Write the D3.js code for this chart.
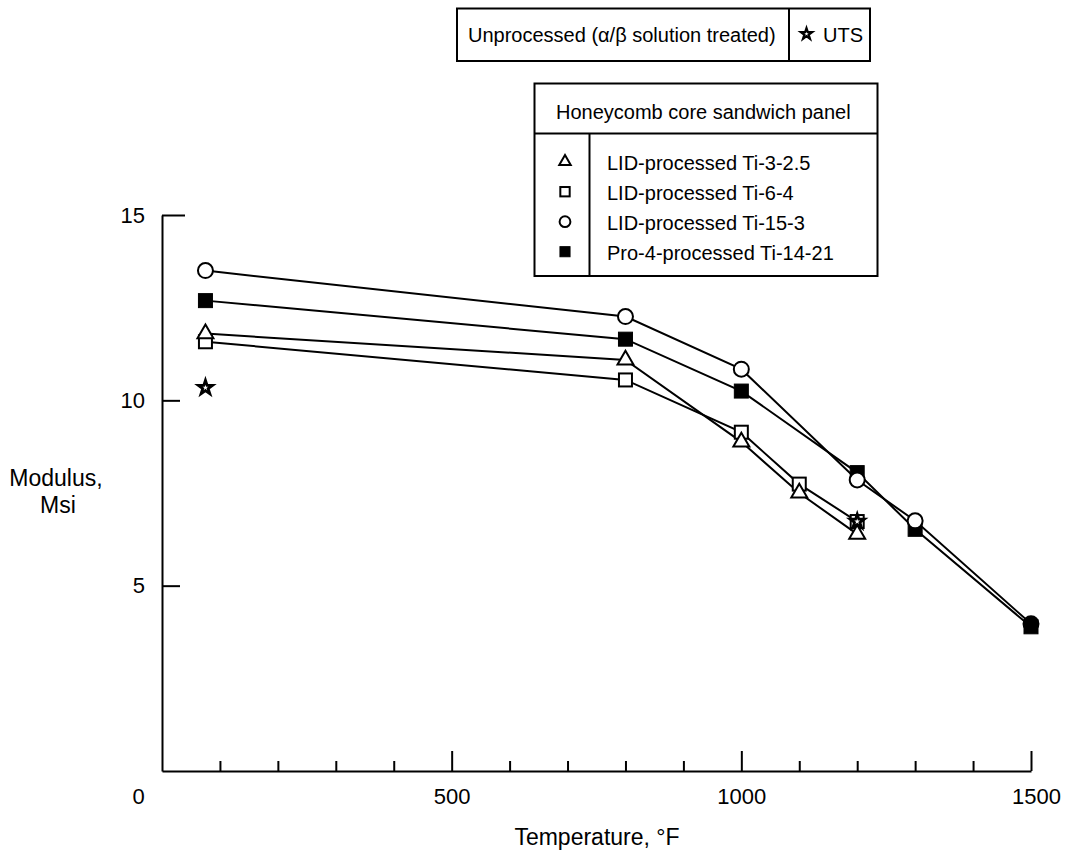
<!DOCTYPE html>
<html>
<head>
<meta charset="utf-8">
<script src="https://cdn.jsdelivr.net/npm/d3@7"></script>
<style>
  body { margin: 0; background: #fff; }
  svg { font-family: "Liberation Sans", Arial, sans-serif; }
</style>
</head>
<body>
<svg width="1070" height="855"></svg>
<script>
// temperatures (°F) and modulus values (Msi)
const tempsFull = [75, 800, 1000, 1200, 1300, 1500];
const tempsLid = [75, 800, 1000, 1100, 1200];
const ti153 = [13.5, 12.26, 10.84, 7.85, 6.75, 3.97];
const ti1421 = [12.69, 11.65, 10.25, 8.05, 6.52, 3.89];
const ti325 = [11.8, 11.09, 8.88, 7.5, 6.39];
const ti64 = [11.58, 10.55, 9.14, 7.74, 6.73];
const utsTemps = [75, 1200];
const utsValues = [10.34, 6.73];

const xTicks = [100, 200, 300, 400, 500, 600, 700, 800, 900, 1000, 1100, 1200, 1300, 1400, 1500];
const xLabels = [0, 500, 1000, 1500];
const yTicks = [5, 10, 15];

const legendItems = [
  { shape: "triangle", label: "LID-processed Ti-3-2.5" },
  { shape: "square", label: "LID-processed Ti-6-4" },
  { shape: "circle", label: "LID-processed Ti-15-3" },
  { shape: "filled", label: "Pro-4-processed Ti-14-21" }
];

const svg = d3.select("svg");

const x = d3.scaleLinear().domain([0, 1500]).range([162, 1031]);
const y = d3.scaleLinear().domain([0, 15]).range([771, 215]);

// x axis: minor ticks pointing up, longer at 500s
const xAxis = svg.append("g")
  .attr("transform", "translate(0,771)")
  .call(d3.axisBottom(x).tickValues(xTicks).tickSize(-10).tickSizeOuter(0).tickFormat(""));
xAxis.selectAll(".tick line")
  .attr("y2", d => d % 500 === 0 ? -20 : -10);

const xLab = svg.append("g")
  .attr("transform", "translate(0,771)")
  .call(d3.axisBottom(x).tickValues(xLabels).tickSize(0).tickPadding(17).tickFormat(d3.format("d")));
xLab.select(".domain").remove();
xLab.selectAll(".tick text")
  .attr("dx", d => d === 0 ? -24 : d === 1500 ? 5 : 0);

// y axis, ticks pointing right
const yAxis = svg.append("g")
  .attr("transform", "translate(162,0)")
  .call(d3.axisLeft(y).tickValues(yTicks).tickSize(-18).tickSizeOuter(0).tickPadding(17));
yAxis.selectAll(".tick line").attr("x2", d => d === 15 ? 23 : 18);

svg.selectAll(".domain, .tick line")
  .attr("stroke", "#000")
  .attr("stroke-width", 2);
svg.selectAll(".tick text")
  .attr("font-size", 22)
  .attr("font-family", "Liberation Sans, Arial, sans-serif")
  .attr("fill", "#000");

// axis titles
svg.append("text")
  .attr("x", 597).attr("y", 845)
  .attr("text-anchor", "middle")
  .attr("font-size", 23)
  .text("Temperature, °F");

svg.append("text")
  .attr("x", 56).attr("y", 486)
  .attr("text-anchor", "middle")
  .attr("font-size", 23)
  .text("Modulus,");
svg.append("text")
  .attr("x", 58).attr("y", 513)
  .attr("text-anchor", "middle")
  .attr("font-size", 23)
  .text("Msi");

// markers
function drawMarker(g, shape, cx, cy, scale, fill) {
  const s = scale || 1;
  if (shape === "circle") {
    g.append("circle").attr("cx", cx).attr("cy", cy).attr("r", 7.5 * s)
      .attr("fill", fill || "#fff").attr("stroke", "#000").attr("stroke-width", 2);
  } else if (shape === "square") {
    const h = 6.5 * s;
    g.append("rect").attr("x", cx - h).attr("y", cy - h).attr("width", 2 * h).attr("height", 2 * h)
      .attr("fill", "#fff").attr("stroke", "#000").attr("stroke-width", 2);
  } else if (shape === "filled") {
    const h = 7 * s;
    g.append("rect").attr("x", cx - h).attr("y", cy - h).attr("width", 2 * h).attr("height", 2 * h)
      .attr("fill", "#000").attr("stroke", "#000").attr("stroke-width", 1);
  } else if (shape === "triangle") {
    g.append("path")
      .attr("d", d3.symbol(d3.symbolTriangle, 110 * s * s)())
      .attr("transform", `translate(${cx},${cy})`)
      .attr("fill", "#fff").attr("stroke", "#000").attr("stroke-width", 2);
  } else if (shape === "star") {
    g.append("path")
      .attr("d", d3.symbol(d3.symbolStar, 100 * s * s)())
      .attr("transform", `translate(${cx},${cy})`)
      .attr("fill", "#000").attr("stroke", "#000").attr("stroke-width", 1.5)
      .attr("stroke-linejoin", "miter");
    g.append("path")
      .attr("d", d3.symbol(d3.symbolStar, 10 * s * s)())
      .attr("transform", `translate(${cx},${cy})`)
      .attr("fill", "#fff");
  }
}

const line = d3.line().x(d => x(d[0])).y(d => y(d[1]));

const series = [
  { temps: tempsLid, vals: ti64, shape: "square" },
  { temps: tempsLid, vals: ti325, shape: "triangle" },
  { temps: tempsFull, vals: ti1421, shape: "filled" },
  { temps: tempsFull, vals: ti153, shape: "circle" }
];

series.forEach(s => {
  const pts = s.temps.map((t, i) => [t, s.vals[i]]);
  svg.append("path")
    .attr("d", line(pts))
    .attr("fill", "none")
    .attr("stroke", "#000")
    .attr("stroke-width", 2);
});
series.forEach(s => {
  const g = svg.append("g");
  s.temps.forEach((t, i) => {
    // where circle sits right on the filled square the print shows a solid blob
    const blob = s.shape === "circle" && Math.abs(s.vals[i] - ti1421[i]) < 0.15;
    drawMarker(g, s.shape, x(t), y(s.vals[i]), 1, blob ? "#000" : null);
  });
});

const starG = svg.append("g");
utsTemps.forEach((t, i) => drawMarker(starG, "star", x(t), y(utsValues[i])));

// legend 1: unprocessed / UTS
const leg1 = svg.append("g");
leg1.append("rect").attr("x", 457).attr("y", 8.5).attr("width", 413).attr("height", 52.5)
  .attr("fill", "none").attr("stroke", "#000").attr("stroke-width", 2);
leg1.append("line").attr("x1", 789).attr("x2", 789).attr("y1", 8.5).attr("y2", 61)
  .attr("stroke", "#000").attr("stroke-width", 2);
leg1.append("text").attr("x", 468).attr("y", 42).attr("font-size", 20)
  .text("Unprocessed (α/β solution treated)");
drawMarker(leg1, "star", 806.5, 34, 0.75);
leg1.append("text").attr("x", 823).attr("y", 42).attr("font-size", 20).text("UTS");

// legend 2: honeycomb panels
const leg2 = svg.append("g");
leg2.append("rect").attr("x", 534.5).attr("y", 83.5).attr("width", 343).attr("height", 192.5)
  .attr("fill", "none").attr("stroke", "#000").attr("stroke-width", 2);
leg2.append("line").attr("x1", 534.5).attr("x2", 877.5).attr("y1", 133.5).attr("y2", 133.5)
  .attr("stroke", "#000").attr("stroke-width", 2);
leg2.append("line").attr("x1", 589.5).attr("x2", 589.5).attr("y1", 133.5).attr("y2", 276)
  .attr("stroke", "#000").attr("stroke-width", 2);
leg2.append("text").attr("x", 556).attr("y", 118.5).attr("font-size", 20)
  .text("Honeycomb core sandwich panel");

legendItems.forEach((d, i) => {
  const cy = 161.7 + i * 30;
  drawMarker(leg2, d.shape, 565, cy, 0.72);
  leg2.append("text").attr("x", 607).attr("y", cy + 8.5).attr("font-size", 20).text(d.label);
});
</script>
</body>
</html>
